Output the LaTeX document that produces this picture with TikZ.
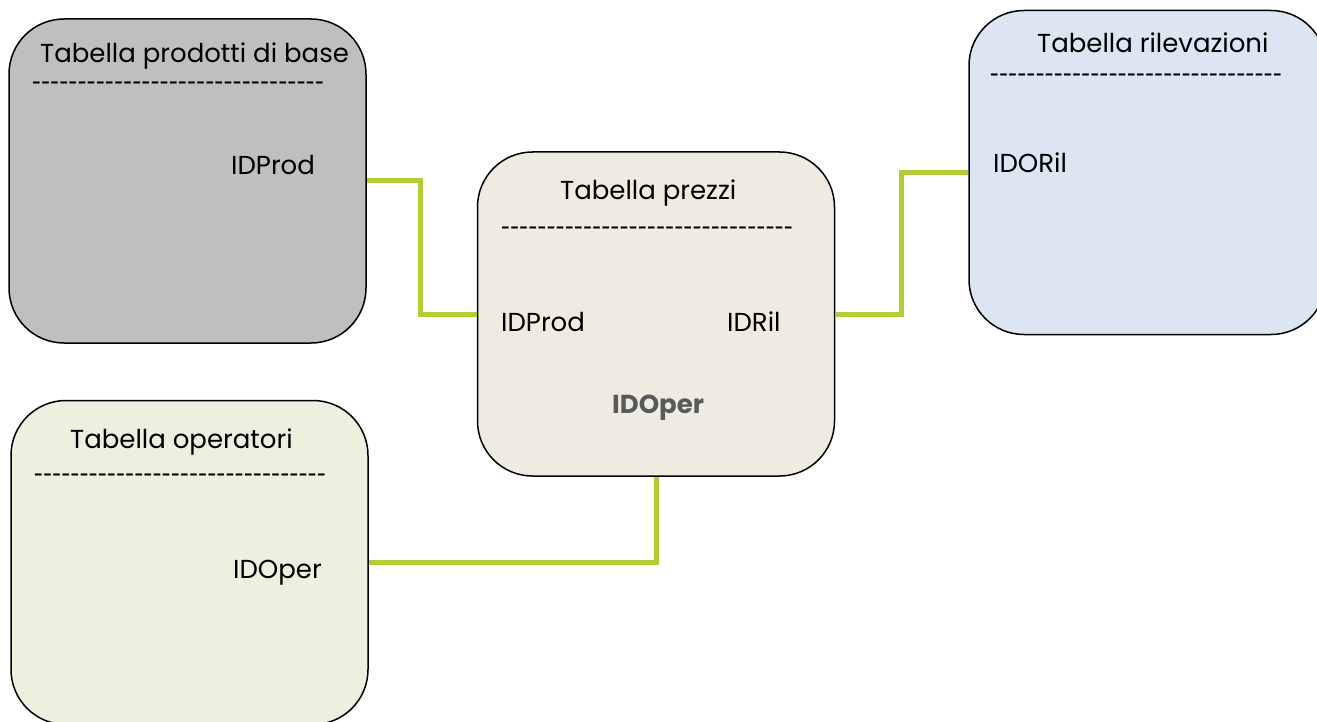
\documentclass[tikz,border=0pt]{standalone}
\usepackage{fontspec}
\usepackage{graphicx}
\setmainfont{Poppins}
\definecolor{linkgreen}{HTML}{B3CC36}
\definecolor{fillA}{HTML}{BFBFBF}
\definecolor{fillB}{HTML}{EEECE1}
\definecolor{fillC}{HTML}{DCE6F2}
\definecolor{fillD}{HTML}{EBF1DE}
\definecolor{boldgray}{HTML}{595959}
\tikzset{
  tbl/.style={draw=black, line width=1.5pt, rounded corners=55pt, minimum width=357pt, minimum height=324pt, inner sep=0pt},
  lbl/.style={inner sep=0pt, anchor=base west, font=\fontsize{26}{30}\selectfont},
  link/.style={draw=linkgreen, line width=5pt}
}
\newcommand{\hy}{\mbox{-}}
\newcommand{\hyeight}{\hy\hy\hy\hy\hy\hy\hy\hy}
\newcommand{\dashrow}{\resizebox{292pt}{\height}{\hyeight\hyeight\hyeight\hyeight}}
\begin{document}
\begin{tikzpicture}[x=1pt,y=-1pt]
\useasboundingbox (0,0) rectangle (1317,722);
\clip (0,0) rectangle (1317,722);
\fill[white] (0,0) rectangle (1317,722);
% boxes
\node[tbl, fill=fillA] (A) at (187.5,181) {};
\node[tbl, fill=fillB] (B) at (656,314) {};
\node[tbl, fill=fillC] (C) at (1147.5,172.5) {};
\node[tbl, fill=fillD] (D) at (189.5,562.5) {};
% connectors
\draw[link] (A.east) -- ++(54,0) |- (B.west);
\draw[link] (B.east) -- ++(66,0) |- (C.west);
\draw[link] (B.south) |- (D.east);
% texts A
\node[lbl] (At) at (40,63) {Tabella prodotti di base};
\node[lbl] (Ad) at (32,93) {\dashrow};
\node[lbl] (Ak) at (231,175) {IDProd};
% texts B
\node[lbl] (Bt) at (560,200) {Tabella prezzi};
\node[lbl] (Bd) at (501,237) {\dashrow};
\node[lbl] (Bk1) at (501,331) {IDProd};
\node[lbl] (Bk2) at (727,331) {IDRil};
\node[lbl, font=\fontsize{26}{30}\selectfont\bfseries, text=boldgray] (Bk3) at (612,413) {IDOper};
% texts C
\node[lbl] (Ct) at (1037,53) {Tabella rilevazioni};
\node[lbl] (Cd) at (990,85) {\dashrow};
\node[lbl] (Ck) at (993,173) {IDORil};
% texts D
\node[lbl] (Dt) at (70,448) {Tabella operatori};
\node[lbl] (Dd) at (34,484) {\dashrow};
\node[lbl] (Dk) at (233,578) {IDOper};
\end{tikzpicture}
\end{document}
